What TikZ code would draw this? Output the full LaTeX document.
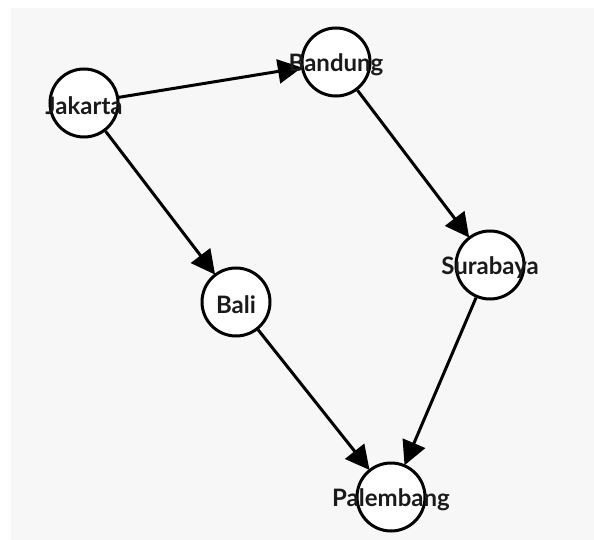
\documentclass[tikz,border=0pt]{standalone}
\usepackage{fontspec}
\setmainfont{Lato}
\usetikzlibrary{arrows.meta}
\definecolor{canvas}{HTML}{F7F7F7}
\definecolor{ink}{HTML}{1A1A1A}
\begin{document}
\begin{tikzpicture}[x=1pt,y=-1pt,
  city/.style={circle,draw=black,line width=3pt,fill=white,
    minimum size=68pt,inner sep=0pt},
  label/.style={font=\bfseries\fontsize{24}{24}\selectfont,text=ink,inner sep=0pt,yshift=-3pt},
  link/.style={line width=3pt,-{Triangle[length=24pt,width=24pt]},shorten >=-1pt}]
  % page and canvas
  \fill[white] (0,0) rectangle (594,540);
  \fill[canvas] (11,8) rectangle (594,540);
  \useasboundingbox (0,0) rectangle (594,540);
  % cities
  \node[city] (jakarta)   at (84,103)  {};
  \node[city] (bandung)   at (336,62)  {};
  \node[city] (surabaya)  at (490,265) {};
  \node[city] (bali)      at (236,302) {};
  \node[city] (palembang) at (391,497) {};
  % routes
  \draw[link] (jakarta) -- (bandung);
  \draw[link] (jakarta) -- (bali);
  \draw[link] (bandung) -- (surabaya);
  \draw[link] (bali) -- (palembang);
  \draw[link] (surabaya) -- (palembang);
  % names
  \node[label] (ljakarta)   at (jakarta)   {Jakarta};
  \node[label] (lbandung)   at (bandung)   {Bandung};
  \node[label] (lsurabaya)  at (surabaya)  {Surabaya};
  \node[label] (lbali)      at (bali)      {Bali};
  \node[label] (lpalembang) at (palembang) {Palembang};
\end{tikzpicture}
\end{document}
